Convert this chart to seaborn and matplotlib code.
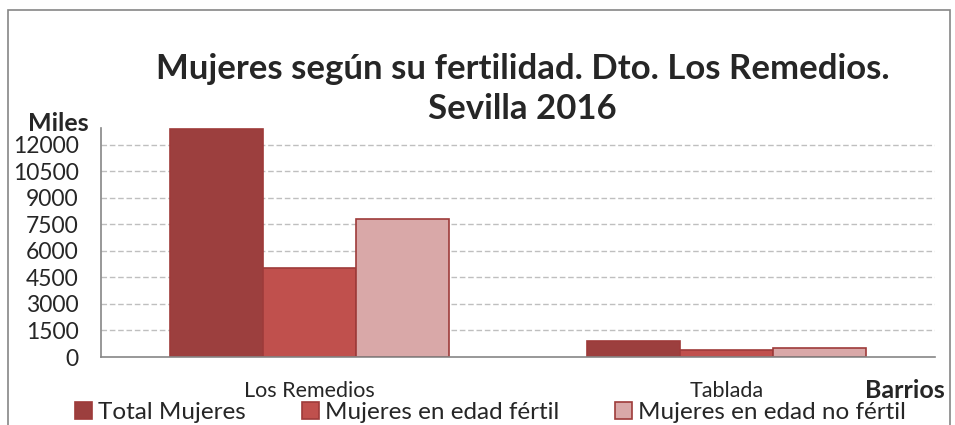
import pandas as pd
import seaborn as sns
import matplotlib.pyplot as plt
from matplotlib.patches import Rectangle

## data
barrios = ["Los Remedios", "Tablada"]
series = ["Total Mujeres", "Mujeres en edad fértil", "Mujeres en edad no fértil"]
total_mujeres = [12880, 915]
edad_fertil = [5055, 420]
edad_no_fertil = [7825, 490]
y_ticks = [0, 1500, 3000, 4500, 6000, 7500, 9000, 10500, 12000]
colors = ["#9C3F3E", "#C0504D", "#D9A8A8"]
edge = "#9E3B3A"

df = pd.DataFrame(
    {
        "Barrio": barrios * 3,
        "Serie": [s for s in series for _ in barrios],
        "Valor": total_mujeres + edad_fertil + edad_no_fertil,
    }
)

## plot
sns.set_theme(style="white")
plt.rcParams["font.family"] = ["Lato", "DejaVu Sans"]

fig = plt.figure(figsize=(9.55, 4.25), dpi=100)
ax = fig.add_axes([0.1058, 0.16, 0.8733, 0.5388])

sns.barplot(
    data=df, x="Barrio", y="Valor", hue="Serie", hue_order=series,
    palette=colors, width=0.67, edgecolor=edge, linewidth=1.2,
    saturation=1, ax=ax, legend=False,
)

ax.set_ylim(0, 12950)
ax.set_yticks(y_ticks)
ax.set_yticklabels([str(t) for t in y_ticks], fontsize=16.5)
ax.tick_params(axis="x", labelsize=15.5, pad=17, length=0)
ax.tick_params(axis="y", length=0, pad=16)
ax.set_xlabel("")
ax.set_ylabel("")
ax.yaxis.grid(True, linestyle=(0, (4, 2)), color="#BFBFBF", linewidth=1)
ax.set_axisbelow(True)
for gl in ax.get_ygridlines()[:1]:
    gl.set_visible(False)
sns.despine(ax=ax, top=True, right=True)
ax.spines["left"].set_color("#868686")
ax.spines["bottom"].set_color("#868686")
ax.spines["left"].set_linewidth(1.2)
ax.spines["bottom"].set_linewidth(1.2)

fig.text(0.547, 0.79, "Mujeres según su fertilidad. Dto. Los Remedios.\nSevilla 2016",
         ha="center", va="center", fontsize=25, fontweight="bold", linespacing=1.3)
fig.text(0.061, 0.71, "Miles", ha="center", va="center", fontsize=18, fontweight="bold")
fig.text(0.948, 0.082, "Barrios", ha="center", va="center", fontsize=18, fontweight="bold")

handles = [Rectangle((0, 0), 1, 1, facecolor=c, edgecolor=edge, linewidth=1.2) for c in colors]
fig.legend(handles, series, loc="center", bbox_to_anchor=(0.514, 0.03), ncol=3,
           frameon=False, fontsize=17.5, handlelength=0.7, handleheight=0.7,
           handletextpad=0.25, columnspacing=2.3, borderaxespad=0, borderpad=0)

fig.patches.append(Rectangle((0.008, -0.1), 0.987, 1.076, transform=fig.transFigure,
                             fill=False, edgecolor="#868686", linewidth=1.2))

fig.savefig("out.png", dpi=100)
